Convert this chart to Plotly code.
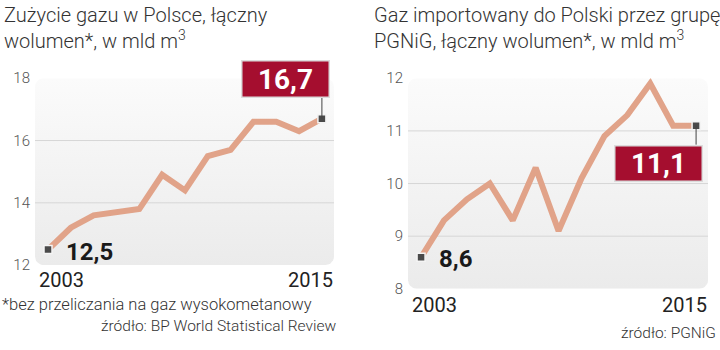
import numpy as np
import plotly.graph_objects as go

W, H = 720, 350

years = list(range(2003, 2016))
consumption = [12.5, 13.2, 13.6, 13.7, 13.8, 14.9, 14.4, 15.5, 15.7, 16.6, 16.6, 16.3, 16.7]
imports = [8.6, 9.3, 9.7, 10.0, 9.3, 10.3, 9.1, 10.1, 10.9, 11.3, 11.9, 11.1, 11.1]

left_ticks = [12, 14, 16, 18]
right_ticks = [8, 9, 10, 11, 12]
left_grid = [14, 16]
right_grid = [9, 10, 11]

left_title = "Zużycie gazu w Polsce, łączny<br>wolumen*, w mld m<sup>3</sup>"
right_title = "Gaz importowany do Polski przez grupę<br>PGNiG, łączny wolumen*, w mld m<sup>3</sup>"
footnote = "*bez przeliczania na gaz wysokometanowy"
source_left = "źródło: BP World Statistical Review"
source_right = "źródło: PGNiG"
year_labels = ["2003", "2015"]

LINE = "#e1a389"
BOX = "#a50e2f"
FONT = "Roboto"

# panel geometry (pixels)
panels = [
    dict(ax="", x0=35, x1=334, y0=73, y1=270, xr=[2002.43, 2015.53], yr=[12, 18],
         ticks=left_ticks, grid=left_grid, data=consumption, title=left_title, tx=2),
    dict(ax="2", x0=408, x1=708, y0=73, y1=295, xr=[2002.43, 2015.52], yr=[8, 12],
         ticks=right_ticks, grid=right_grid, data=imports, title=right_title, tx=372),
]

fig = go.Figure()


def rounded_rect(xr, yr, pw, ph, r=9, n=8):
    rx = r * (xr[1] - xr[0]) / pw
    ry = r * (yr[1] - yr[0]) / ph
    xs, ys = [], []
    corners = [
        (xr[1] - rx, yr[1] - ry, 0, 90),
        (xr[0] + rx, yr[1] - ry, 90, 180),
        (xr[0] + rx, yr[0] + ry, 180, 270),
        (xr[1] - rx, yr[0] + ry, 270, 360),
    ]
    for cx, cy, a0, a1 in corners:
        for a in np.linspace(np.radians(a0), np.radians(a1), n):
            xs.append(cx + rx * np.cos(a))
            ys.append(cy + ry * np.sin(a))
    xs.append(xs[0]); ys.append(ys[0])
    return xs, ys


for p in panels:
    xa = "x" + p["ax"]
    ya = "y" + p["ax"]
    pw = p["x1"] - p["x0"]
    ph = p["y1"] - p["y0"]
    bx, by = rounded_rect(p["xr"], p["yr"], pw, ph)
    fig.add_trace(go.Scatter(
        x=bx, y=by, mode="lines", line=dict(width=0), fill="toself",
        fillgradient=dict(type="vertical", colorscale=[[0, "#ebebeb"], [1, "#fbfbfb"]]),
        hoverinfo="skip", showlegend=False, xaxis=xa, yaxis=ya))
    gx, gy = [], []
    for g in p["grid"]:
        gx += [p["xr"][0], p["xr"][1], None]
        gy += [g, g, None]
    fig.add_trace(go.Scatter(x=gx, y=gy, mode="lines", line=dict(color="#d6d6d6", width=1),
                             hoverinfo="skip", showlegend=False, xaxis=xa, yaxis=ya))
    fig.add_trace(go.Scatter(x=years, y=p["data"], mode="lines",
                             line=dict(color=LINE, width=6), showlegend=False,
                             xaxis=xa, yaxis=ya))
    fig.add_trace(go.Scatter(x=[years[0], years[-1]], y=[p["data"][0], p["data"][-1]],
                             mode="markers",
                             marker=dict(symbol="square", size=8, color="#4a4a4a",
                                         line=dict(color="#f4f4f4", width=1.5)),
                             showlegend=False, xaxis=xa, yaxis=ya))

    xkey = "xaxis" + p["ax"]
    ykey = "yaxis" + p["ax"]
    fig.layout[xkey] = dict(domain=[p["x0"] / W, p["x1"] / W], range=p["xr"],
                            visible=False, fixedrange=True, anchor=ya)
    fig.layout[ykey] = dict(domain=[1 - p["y1"] / H, 1 - p["y0"] / H], range=p["yr"],
                            tickvals=p["ticks"], showgrid=False, zeroline=False,
                            showline=False, ticks="", ticklabelstandoff=4,
                            tickfont=dict(family=FONT, size=15, color="#555555", weight=300),
                            fixedrange=True, anchor=xa)

    # title
    fig.add_annotation(text=p["title"], xref="paper", yref="paper", x=p["tx"] / W, y=1,
                       xanchor="left", yanchor="top", showarrow=False, align="left",
                       yshift=8,
                       font=dict(family=FONT, size=20, color="#333333", weight=300))
    # year labels
    fig.add_annotation(text=year_labels[0], xref=xa + " domain", yref=ya + " domain",
                       x=0, y=0, xanchor="left", yanchor="middle", xshift=2,
                       yshift=-15 if p["ax"] == "" else -16.5, showarrow=False,
                       font=dict(family=FONT, size=20, color="#222222"))
    fig.add_annotation(text=year_labels[1], xref=xa + " domain", yref=ya + " domain",
                       x=1, y=0, xanchor="right", yanchor="middle", xshift=1,
                       yshift=-15 if p["ax"] == "" else -16.5, showarrow=False,
                       font=dict(family=FONT, size=20, color="#222222"))
    # first value label
    fig.add_annotation(text=f"{p['data'][0]:.1f}".replace(".", ","), xref=xa, yref=ya,
                       x=years[0], y=p["data"][0], xanchor="left", yanchor="middle",
                       xshift=16, yshift=-2, showarrow=False,
                       font=dict(family=FONT, size=24, color="#1a1a1a", weight="bold"))

# last value boxes
last_l = consumption[-1]
fig.add_shape(type="line", xref="x", yref="y", x0=years[-1], x1=years[-1],
              ysizemode="pixel", yanchor=last_l, y0=0, y1=21,
              line=dict(color="#444444", width=1))
fig.add_annotation(text=f"{last_l:.1f}".replace(".", ","), xref="x", yref="y",
                   x=years[-1], y=last_l, xanchor="right", yanchor="bottom",
                   xshift=8, yshift=21, showarrow=False, width=82, height=31,
                   bgcolor=BOX, bordercolor="#dcdcdc", borderwidth=1.5, borderpad=2,
                   font=dict(family=FONT, size=28, color="white", weight="bold"))

last_r = imports[-1]
fig.add_shape(type="line", xref="x2", yref="y2", x0=years[-1], x1=years[-1],
              ysizemode="pixel", yanchor=last_r, y0=0, y1=-19,
              line=dict(color="#444444", width=1))
fig.add_annotation(text=f"{last_r:.1f}".replace(".", ","), xref="x2", yref="y2",
                   x=years[-1], y=last_r, xanchor="right", yanchor="top",
                   xshift=7, yshift=-19, showarrow=False, width=82, height=30,
                   bgcolor=BOX, bordercolor="#dcdcdc", borderwidth=1.5, borderpad=2,
                   font=dict(family=FONT, size=28, color="white", weight="bold"))

# footnotes
fig.add_annotation(text=footnote, xref="paper", yref="paper", x=0, y=1 - 311 / H,
                   xanchor="left", yanchor="middle", showarrow=False,
                   font=dict(family=FONT, size=16.5, color="#333333", weight=300))
fig.add_annotation(text=source_left, xref="paper", yref="paper", x=338 / W, y=1 - 334 / H,
                   xanchor="right", yanchor="middle", showarrow=False,
                   font=dict(family=FONT, size=15.5, color="#333333", weight=300))
fig.add_annotation(text=source_right, xref="paper", yref="paper", x=718 / W, y=1 - 342 / H,
                   xanchor="right", yanchor="middle", showarrow=False,
                   font=dict(family=FONT, size=15.5, color="#333333", weight=300))

fig.update_layout(width=W, height=H, margin=dict(l=0, r=0, t=0, b=0),
                  paper_bgcolor="white", plot_bgcolor="rgba(0,0,0,0)",
                  showlegend=False, hovermode=False)

fig.write_html("out.html", config=dict(displayModeBar=False))
